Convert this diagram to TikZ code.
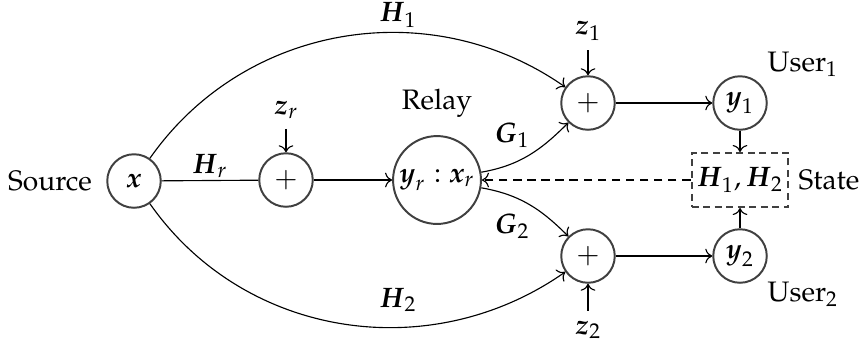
\documentclass[tikz,border=0pt]{standalone}
\usepackage[T1]{fontenc}
\usepackage{amsmath,amssymb}
\usepackage{mathpazo}
\usepackage{tikz}
\usetikzlibrary{arrows.meta, positioning}

\begin{document}
\begin{tikzpicture}[x=0.355pt, y=-0.355pt,
  sumnode/.style={circle, draw=black!75, line width=0.7pt,
                  minimum size=19pt, inner sep=0pt},
  relaynode/.style={sumnode, minimum size=31.2pt},
  statebox/.style={draw=black!75, line width=0.7pt,
                   dash pattern=on 2.5pt off 1.6pt,
                   minimum width=34.4pt, minimum height=19.2pt, inner sep=1pt},
  lnk/.style={->, line width=0.4pt},
]
\useasboundingbox (0,0) rectangle (865,351);

% nodes
\node (srclbl) at (50,181) {Source};
\node[sumnode] (src) at (134,181) {$\boldsymbol{x}$};
\node[sumnode] (sumr) at (286,180) {$+$};
\node[relaynode] (relay) at (437,180) {$\boldsymbol{y}_r:\boldsymbol{x}_r$};
\node[sumnode] (sum1) at (588,103) {$+$};
\node[sumnode] (sum2) at (588,256) {$+$};
\node[sumnode] (usr1) at (740,103) {$\boldsymbol{y}_1$};
\node[sumnode] (usr2) at (740,256) {$\boldsymbol{y}_2$};
\node[statebox] (state) at (740,180) {$\boldsymbol{H}_1,\boldsymbol{H}_2$};

% labels
\node (zr) at (286,110) {$\boldsymbol{z}_r$};
\node (z1) at (588,31) {$\boldsymbol{z}_1$};
\node (z2) at (588,330) {$\boldsymbol{z}_2$};
\node (relaylbl) at (437,103) {Relay};
\node (user1lbl) at (803,64) {User$_1$};
\node (user2lbl) at (803,294) {User$_2$};
\node (statelbl) at (829,180) {State};
\node (h1lbl) at (398,15) {$\boldsymbol{H}_1$};
\node (h2lbl) at (398,300) {$\boldsymbol{H}_2$};
\node (hrlbl) at (210,166) {$\boldsymbol{H}_r$};
\node (g1lbl) at (512,135) {$\boldsymbol{G}_1$};
\node (g2lbl) at (512,226) {$\boldsymbol{G}_2$};

% links
\draw[lnk] (src) to[out=55, in=145] (sum1);
\draw[lnk] (src) to[out=-55, in=-145] (sum2);
\draw[line width=0.4pt] (src) -- (sumr);
\draw[lnk] (sumr) -- (relay);
\draw[lnk] (zr) -- (sumr);
\draw[lnk] (z1) -- (sum1);
\draw[lnk] (z2) -- (sum2);
\draw[lnk] (relay) to[out=10, in=-135] (sum1);
\draw[lnk] (relay) to[out=-10, in=135] (sum2);
\draw[lnk] (sum1) -- (usr1);
\draw[lnk] (sum2) -- (usr2);
\draw[lnk] (usr1) -- (state);
\draw[lnk] (usr2) -- (state);
\draw[lnk, dash pattern=on 3pt off 2pt] (state) -- (relay);
\end{tikzpicture}
\end{document}
